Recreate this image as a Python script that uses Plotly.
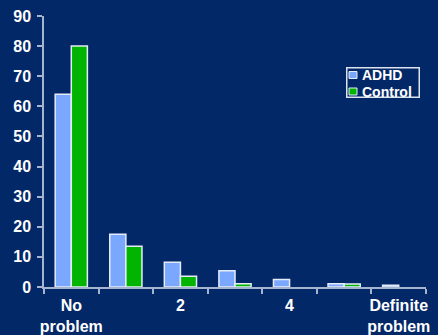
import plotly.graph_objects as go

categories = ["No problem", "1", "2", "3", "4", "5", "Definite problem"]
tick_labels = ["No<br>problem", "", "2", "", "4", "", "Definite<br>problem"]
adhd = [64, 17.5, 8.2, 5.4, 2.5, 1.1, 0.6]
control = [80, 13.5, 3.6, 1.1, None, 1.0, None]
y_ticks = [0, 10, 20, 30, 40, 50, 60, 70, 80, 90]
series_names = ["ADHD", "Control"]
series_colors = ["#7BA8FF", "#00B400"]

BG = "#032868"
AXIS = "#A7B4CF"
OUTLINE = "#E6ECF7"
FAM = "Liberation Sans, Arial, sans-serif"
W, H = 438, 335
L, R, T, B = 44, 12, 16, 48
PW, PH = W - L - R, H - T - B


def px_x(p):
    return (p - L) / PW


def px_y(p):
    return 1 - (p - T) / PH


fig = go.Figure()
for name, vals, col in zip(series_names, [adhd, control], series_colors):
    fig.add_trace(go.Bar(name=name, x=categories, y=vals,
                         marker=dict(color=col, line=dict(color=OUTLINE, width=1.5))))

# legend drawn as box + swatches + labels
bx0, bx1, by0, by1 = 346, 419, 67, 97
annotations = [dict(text=" ", xref="paper", yref="paper", x=px_x(bx0), y=px_y(by0),
                    xanchor="left", yanchor="top", showarrow=False,
                    width=bx1 - bx0 - 2, height=by1 - by0 - 2, borderpad=0,
                    bordercolor="#DDE3EE", borderwidth=1.5, bgcolor="rgba(0,0,0,0)",
                    font=dict(family=FAM, size=10, color="white"))]
shapes = []
for i, (name, col) in enumerate(zip(series_names, series_colors)):
    top = 71.5 + i * 16.5
    shapes.append(dict(type="rect", xref="paper", yref="paper",
                       x0=px_x(349), x1=px_x(357), y0=px_y(top), y1=px_y(top + 7),
                       line=dict(color=OUTLINE, width=1), fillcolor=col, layer="above"))
    annotations.append(dict(text=name, xref="paper", yref="paper",
                            x=px_x(360), y=px_y(top + 3.5), xanchor="left", yanchor="middle",
                            showarrow=False,
                            font=dict(family=FAM, size=14, color="white", weight="bold")))

fig.update_layout(
    width=W, height=H,
    margin=dict(l=L, r=R, t=T, b=B),
    paper_bgcolor=BG, plot_bgcolor=BG,
    barmode="group", bargap=0.41, bargroupgap=0,
    showlegend=False,
    shapes=shapes, annotations=annotations,
)
fig.update_xaxes(
    type="category", tickmode="array", tickvals=categories, ticktext=tick_labels,
    tickson="boundaries", ticks="outside", ticklen=5, tickcolor=AXIS, tickwidth=1.5,
    showline=True, linecolor=AXIS, linewidth=1.5, showgrid=False, zeroline=False,
    tickangle=0, automargin=False, ticklabelstandoff=3,
    tickfont=dict(family=FAM, size=16, color="white", weight="bold"),
)
fig.update_yaxes(
    range=[0, 90], tickmode="array", tickvals=y_ticks,
    ticks="outside", ticklen=5, tickcolor=AXIS, tickwidth=1.5,
    showline=True, linecolor=AXIS, linewidth=1.5, showgrid=False, zeroline=False,
    automargin=False, ticklabelstandoff=3,
    tickfont=dict(family=FAM, size=16, color="white", weight="bold"),
)
fig.write_html("out.html")
